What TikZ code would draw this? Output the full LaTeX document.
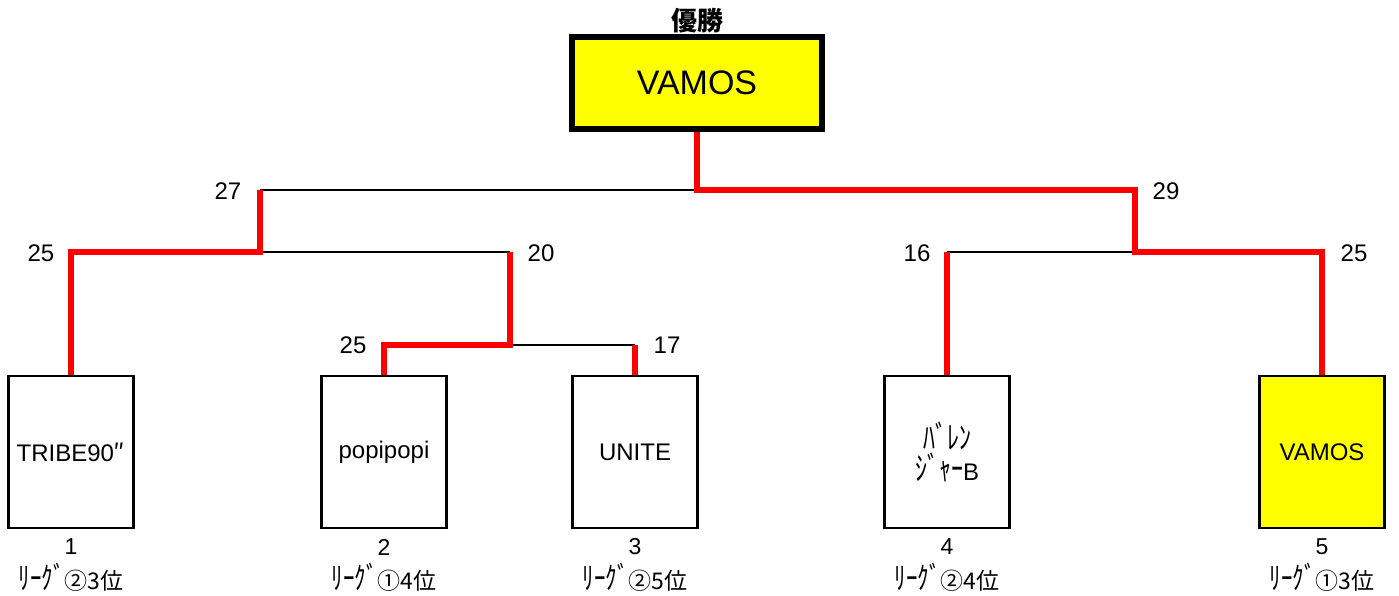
\documentclass[tikz,border=0pt]{standalone}
\usepackage{fontspec}
\usepackage{graphicx}
\setmainfont{Liberation Sans}
\newfontfamily\jp{Noto Sans CJK JP}
\newcommand{\hk}[1]{\scalebox{1}[1.35]{\jp #1}}
\usetikzlibrary{backgrounds}
\definecolor{winyellow}{HTML}{FFFF00}
\begin{document}
\begin{tikzpicture}[x=1pt,y=-1pt,
  team/.style={draw=black, line width=2.7pt, minimum width=125pt, minimum height=152pt, inner sep=0pt, font=\fontsize{24}{31}\selectfont, align=center},
  win/.style={draw=red, line width=6.5pt},
  lose/.style={draw=black, line width=2.5pt},
  score/.style={font=\fontsize{24}{28}\selectfont, inner sep=0pt},
  lbl/.style={font=\fontsize{23}{26}\selectfont, inner sep=0pt}]
\useasboundingbox (0,0) rectangle (1399,595);
% champion
\node[draw=black, line width=6pt, fill=winyellow, minimum width=250pt, minimum height=92pt, inner sep=0pt, font=\fontsize{34}{40}\selectfont] (champ) at (697,83) {VAMOS};
\node[font=\jp\bfseries\fontsize{26}{30}\selectfont, inner sep=0pt] (title) at (697,21) {優勝};
% teams
\node[team] (t1) at (71,452) {TRIBE90{\jp ″}};
\node[team] (t2) at (384,452) {popipopi};
\node[team] (t3) at (635,452) {UNITE};
\node[team] (t4) at (947,452) {\hk{ﾊﾞﾚﾝ}\\\hk{ｼﾞｬｰ}B};
\node[team, fill=winyellow] (t5) at (1322,452) {VAMOS};
% bottom labels
\foreach \i/\x/\t in {1/71/②3位, 2/384/①4位, 3/635/②5位, 4/947/②4位, 5/1322/①3位}{
  \node[lbl] (n\i) at (\x,547) {\i};
  \node[lbl] (l\i) at (\x,577) {\hk{ﾘｰｸﾞ}{\jp \t}};
}
% junctions
\coordinate (A) at (697,190);
\coordinate (B) at (260,190);
\coordinate (C) at (1135,190);
\coordinate (D) at (260,252);
\coordinate (D2) at (510,252);
\coordinate (E) at (510,345);
\coordinate (F) at (1135,252);
\coordinate (F1) at (947,252);
\coordinate (F2) at (1322,252);
% scores
\node[score] (s27) at (228,191) {27};
\node[score] (s29) at (1166,191) {29};
\node[score] (s25a) at (41,253) {25};
\node[score] (s20) at (541,253) {20};
\node[score] (s25b) at (353,345) {25};
\node[score] (s17) at (667,345) {17};
\node[score] (s16) at (917,253) {16};
\node[score] (s25c) at (1354,253) {25};
\begin{scope}[on background layer]
  \draw[lose] (B) -- (A);
  \draw[lose] (D) -- (D2);
  \draw[lose] (E) -- (t3.north |- E);
  \draw[lose] (F1) -- (F);
  \draw[win] (champ.south) -- (A) -- (C) -- (F) -- (F2) -- (t5.north);
  \draw[win] (t1.north) |- (D) -- (B);
  \draw[win] (D2) -- (E) -- (t2.north |- E) -- (t2.north);
  \draw[win] (t3.north |- E) -- (t3.north);
  \draw[win] (F1) -- (t4.north);
\end{scope}
\end{tikzpicture}
\end{document}
